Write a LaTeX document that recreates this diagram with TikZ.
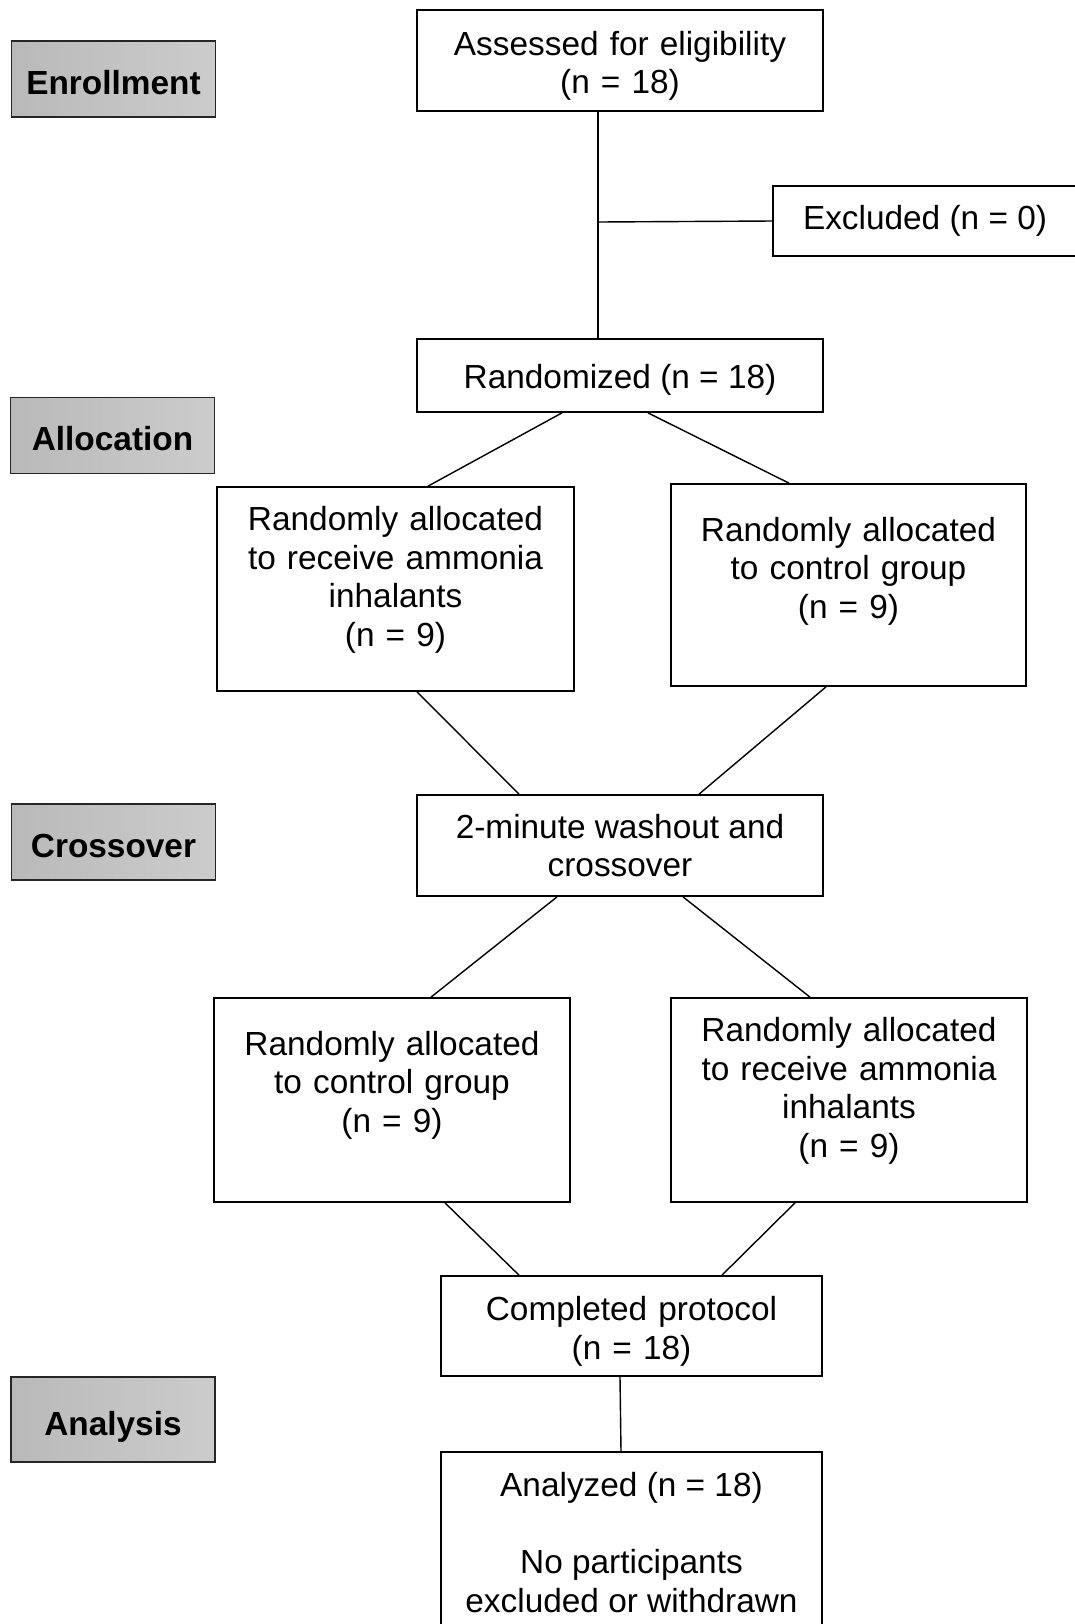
\documentclass[tikz,border=0pt]{standalone}
\usepackage{fontspec}
\setmainfont{Liberation Sans}
\usetikzlibrary{positioning}
\definecolor{stgl}{HTML}{B9B9B9}
\definecolor{stgr}{HTML}{CCCCCC}
\tikzset{
  % plain white flow box
  box/.style   = {draw, line width=1pt, fill=white, align=center, inner sep=2pt,
                  font=\fontsize{19}{22}\selectfont},
  % first line given a taller strut, so the text sits a little lower
  low/.style   = {execute at begin node={\rule{0pt}{#1}}},
  % text set in a fixed width, shifted up (or down, if #1 < 0)
  tall/.style  = {box, text width=6.9cm, execute at end node={\par\vspace*{#1}}},
  stage/.style = {draw=black!85, line width=1pt, left color=stgl, right color=stgr,
                  minimum width=4.08cm, minimum height=1.52cm,
                  text height=17.4pt, text depth=0pt,
                  font=\fontsize{19}{22}\selectfont\bfseries},
  link/.style  = {line width=0.8pt},
}
\begin{document}
\begin{tikzpicture}[x=0.02cm,y=-0.02cm]
\clip (0,0) rectangle (1075,1624);
\useasboundingbox (0,0) rectangle (1075,1624);
% stages
\node[stage] (enrol) at (113.5,79)  {Enrollment};
\node[stage] (alloc) at (112.5,435.5) {Allocation};
\node[stage] (cross) at (113.5,842) {Crossover};
\node[stage, minimum height=1.7cm, text height=18.5pt] (analy) at (113,1419.5) {Analysis};
% flow
\node[tall=-0.21cm, minimum width=8.12cm, minimum height=2.02cm] (assess) at (620,60.5)
  {Assessed for eligibility\\(n = 18)};
\node[box, minimum width=6.08cm, minimum height=1.4cm] (excl) at (925,221)
  {Excluded (n = 0)};
\node[box, low=0.98em, minimum width=8.12cm, minimum height=1.46cm] (rand) at (620,375.5)
  {Randomized (n = 18)};
\node[tall=0.36cm, minimum width=7.14cm, minimum height=4.08cm] (amA) at (395.5,589)
  {Randomly allocated\\to receive ammonia\\inhalants\\(n = 9)};
\node[tall=0.56cm, minimum width=7.1cm, minimum height=4.04cm] (ctA) at (848.5,585)
  {Randomly allocated\\to control group\\(n = 9)};
\node[box, minimum width=8.12cm, minimum height=2.02cm] (wash) at (620,845.5)
  {2-minute washout and\\crossover};
\node[tall=0.6cm, minimum width=7.12cm, minimum height=4.08cm] (ctB) at (392,1100)
  {Randomly allocated\\to control group\\(n = 9)};
\node[tall=0.36cm, minimum width=7.12cm, minimum height=4.08cm] (amB) at (849,1100)
  {Randomly allocated\\to receive ammonia\\inhalants\\(n = 9)};
\node[tall=-0.21cm, minimum width=7.62cm, minimum height=2cm] (done) at (631.5,1326)
  {Completed protocol\\(n = 18)};
\node[box, minimum width=7.62cm, minimum height=3.62cm] (anal) at (631.5,1542.5)
  {Analyzed (n = 18)\\[21.7pt]No participants\\excluded or withdrawn};
% connectors
\draw[link] (assess.south -| 598,0) -- (rand.north -| 598,0);
\draw[link] (598,222) -- (excl.west);
\draw[link] (rand.south -| 562,0) -- (amA.north -| 428,0);
\draw[link] (rand.south -| 648,0) -- (ctA.north -| 789,0);
\draw[link] (amA.south -| 417,0) -- (wash.north -| 519,0);
\draw[link] (ctA.south -| 826,0) -- (wash.north -| 699,0);
\draw[link] (wash.south -| 557,0) -- (ctB.north -| 431,0);
\draw[link] (wash.south -| 683,0) -- (amB.north -| 810,0);
\draw[link] (ctB.south -| 445,0) -- (done.north -| 519,0);
\draw[link] (amB.south -| 795,0) -- (done.north -| 722,0);
\draw[link] (done.south -| 620,0) -- (anal.north -| 621,0);
\end{tikzpicture}
\end{document}
